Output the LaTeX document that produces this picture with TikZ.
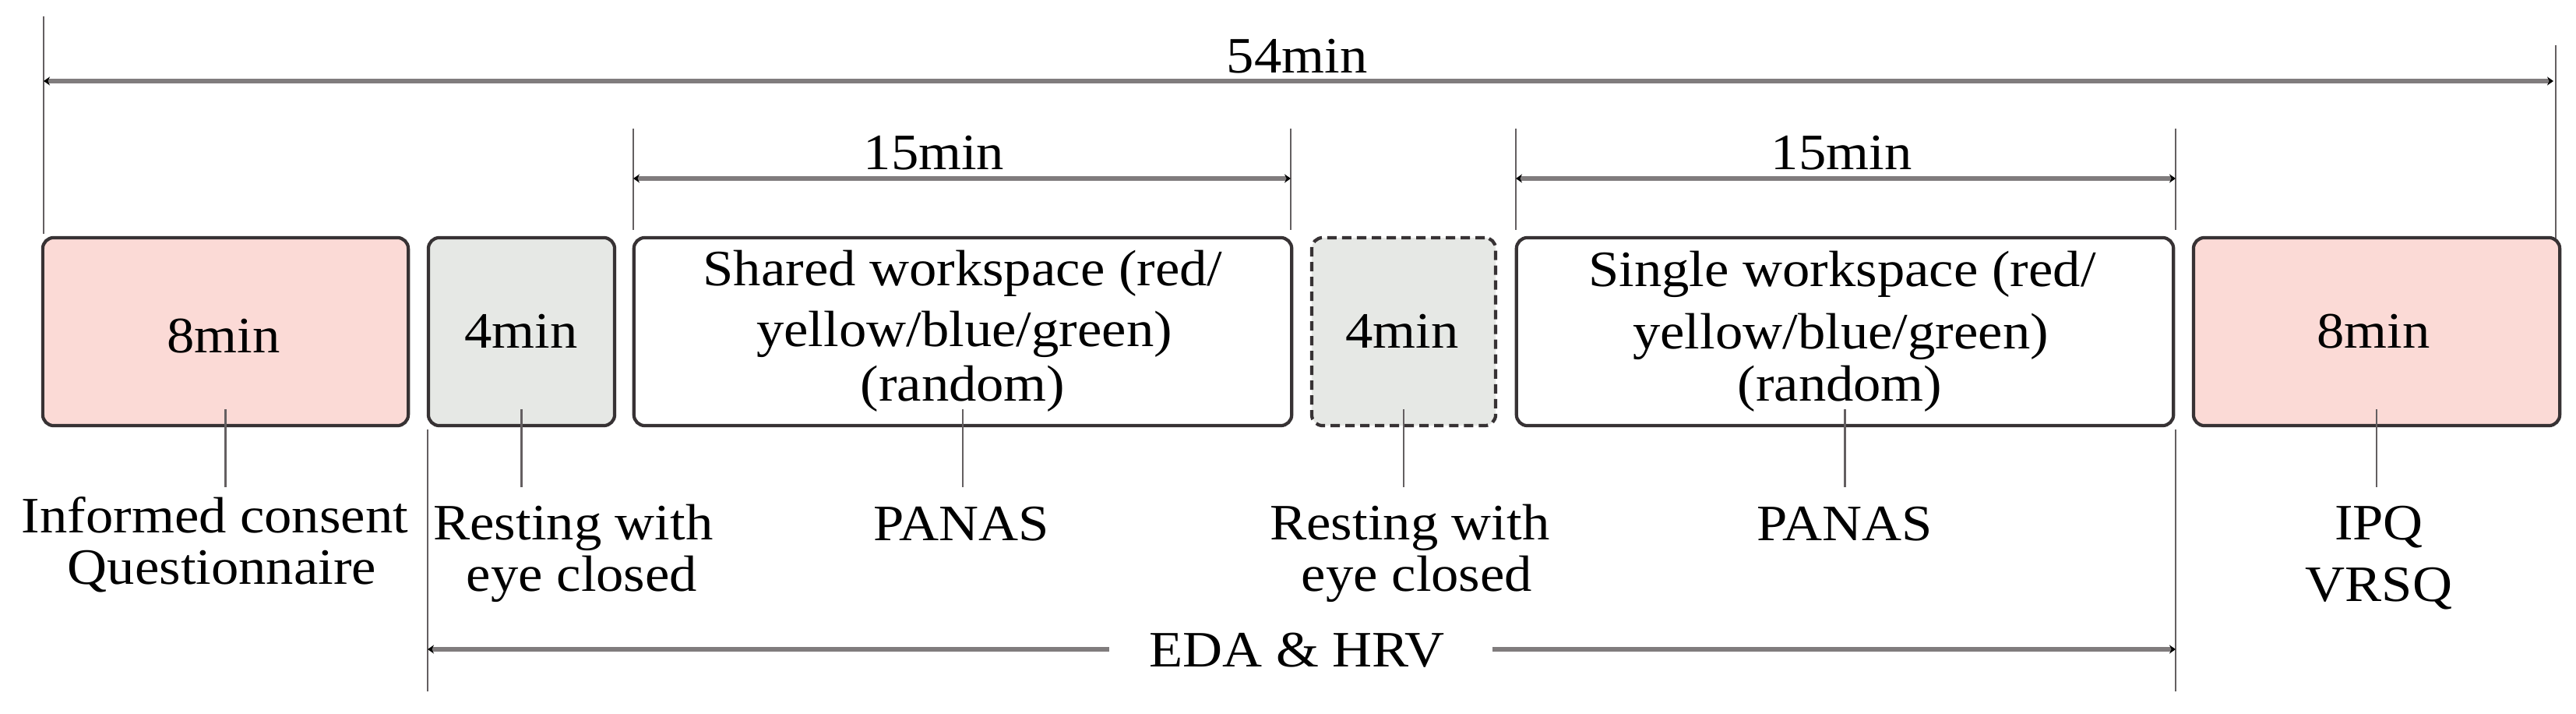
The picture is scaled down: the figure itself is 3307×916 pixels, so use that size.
\documentclass[tikz,border=0pt]{standalone}
\usepackage{fontspec}
\setmainfont{Liberation Serif}[FakeStretch=1.08]
\usetikzlibrary{arrows.meta}
\definecolor{pinkf}{RGB}{251,218,214}
\definecolor{grayf}{RGB}{230,232,229}
\definecolor{edgec}{RGB}{55,50,52}
\definecolor{dimc}{RGB}{128,124,125}
\definecolor{extc}{RGB}{100,95,97}
\begin{document}
\begin{tikzpicture}[x=0.01cm,y=-0.01cm,
  box/.style={draw=edgec, line width=1.2pt, rounded corners=0.14cm, inner sep=0pt, minimum height=2.41cm},
  txt/.style={font=\fontsize{18.6}{22}\selectfont, inner sep=0pt, anchor=base},
  tipc/.tip={Stealth[length=0.8mm,width=1.1mm,color=black]},
  dimline/.style={draw=dimc, line width=1.8pt},
  extline/.style={draw=extc, line width=0.8pt},
  lead/.style={draw=extc, line width=0.8pt}
]
\useasboundingbox (0,0) rectangle (3307,916);

% ---------- 54min dimension ----------
\coordinate (e54lt) at (56,21);   \coordinate (e54lb) at (56,300);
\coordinate (e54rt) at (3281,58); \coordinate (e54rb) at (3281,336);
\coordinate (d54l) at (56,104);   \coordinate (d54r) at (3278,104);
\draw[extline] (e54lt) -- (e54lb);
\draw[extline] (e54rt) -- (e54rb);
\draw[dimline, tipc-tipc] (d54l) -- (d54r);
\node[txt] (t54) at (1665,94) {54min};

% ---------- 15min dimensions ----------
\coordinate (ea1t) at (813,165);  \coordinate (ea1b) at (813,295);
\coordinate (ea2t) at (1657,165); \coordinate (ea2b) at (1657,295);
\coordinate (da1) at (813,229);   \coordinate (da2) at (1657,229);
\draw[extline] (ea1t) -- (ea1b);
\draw[extline] (ea2t) -- (ea2b);
\draw[dimline, tipc-tipc] (da1) -- (da2);
\node[txt] (t15a) at (1199,218) {15min};

\coordinate (eb1t) at (1946,165); \coordinate (eb1b) at (1946,295);
\coordinate (eb2t) at (2793,165); \coordinate (eb2b) at (2793,295);
\coordinate (db1) at (1946,229);  \coordinate (db2) at (2793,229);
\draw[extline] (eb1t) -- (eb1b);
\draw[extline] (eb2t) -- (eb2b);
\draw[dimline, tipc-tipc] (db1) -- (db2);
\node[txt] (t15b) at (2364,218) {15min};

% ---------- boxes ----------
\node[box, fill=pinkf, minimum width=4.69cm] (b1) at (289.5,425.5) {};
\node[box, fill=grayf, minimum width=2.39cm] (b2) at (669.5,425.5) {};
\node[box, fill=white, minimum width=8.44cm] (b3) at (1236,425.5) {};
\node[box, fill=grayf, minimum width=2.36cm, dashed, dash pattern=on 0.12cm off 0.07cm] (b4) at (1802,425.5) {};
\node[box, fill=white, minimum width=8.43cm] (b5) at (2368.5,425.5) {};
\node[box, fill=pinkf, minimum width=4.70cm] (b6) at (3051,425.5) {};

\node[txt] (b1t) at (287,453) {8min};
\node[txt] (b2t) at (669,447) {4min};
\node[txt] (b3a) at (1236,367) {Shared workspace (red/};
\node[txt] (b3b) at (1238,445) {yellow/blue/green)};
\node[txt] (b3c) at (1236,515) {(random)};
\node[txt] (b4t) at (1800,447) {4min};
\node[txt] (b5a) at (2365,368) {Single workspace (red/};
\node[txt] (b5b) at (2363,448) {yellow/blue/green)};
\node[txt] (b5c) at (2362,515) {(random)};
\node[txt] (b6t) at (3047,447) {8min};

% ---------- leaders ----------
\draw[lead] ([yshift=0.23cm]b1.south) -- ++(0,100) coordinate (l1);
\draw[lead] ([yshift=0.23cm]b2.south) -- ++(0,100) coordinate (l2);
\draw[lead] ([yshift=0.23cm]b3.south) -- ++(0,100) coordinate (l3);
\draw[lead] ([yshift=0.23cm]b4.south) -- ++(0,100) coordinate (l4);
\draw[lead] ([yshift=0.23cm]b5.south) -- ++(0,100) coordinate (l5);
\draw[lead] ([yshift=0.23cm]b6.south) -- ++(0,100) coordinate (l6);

% ---------- labels ----------
\node[txt] (lab1a) at (276,683) {Informed consent};
\node[txt] (lab1b) at (285,749) {Questionnaire};
\node[txt] (lab2a) at (736,692) {Resting with};
\node[txt] (lab2b) at (747,758) {eye closed};
\node[txt] (lab3) at (1234,693) {PANAS};
\node[txt] (lab4a) at (1810,692) {Resting with};
\node[txt] (lab4b) at (1819,758) {eye closed};
\node[txt] (lab5) at (2368,693) {PANAS};
\node[txt] (lab6a) at (3054,692) {IPQ};
\node[txt] (lab6b) at (3054,771) {VRSQ};

% ---------- EDA & HRV ----------
\coordinate (ee1t) at (549,551);  \coordinate (ee1b) at (549,887);
\coordinate (ee2t) at (2793,551); \coordinate (ee2b) at (2793,887);
\coordinate (de1) at (549,833);   \coordinate (de2) at (2793,833);
\coordinate (gap1) at (1424,833); \coordinate (gap2) at (1916,833);
\draw[extline] (ee1t) -- (ee1b);
\draw[extline] (ee2t) -- (ee2b);
\draw[dimline, tipc-] (de1) -- (gap1);
\draw[dimline, -tipc] (gap2) -- (de2);
\node[txt] (teda) at (1665,855) {EDA \& HRV};
\end{tikzpicture}
\end{document}
